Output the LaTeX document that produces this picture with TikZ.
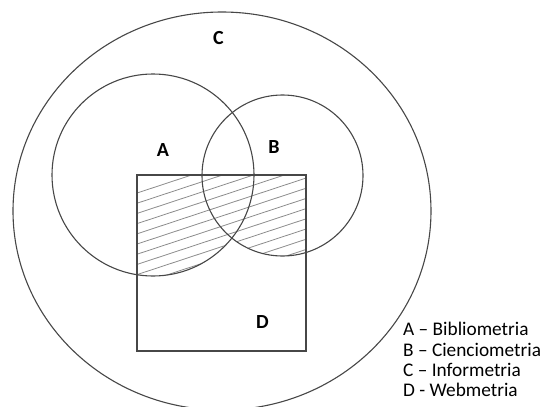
\documentclass[tikz,border=0pt]{standalone}
\usepackage{fontspec}
\setmainfont{Carlito}
\begin{document}
\begin{tikzpicture}[x=1pt,y=-1pt,
  outline/.style={draw=black!72,line width=1.1pt},
  hatchline/.style={draw=black!45,line width=0.8pt},
  setlabel/.style={font=\fontsize{20}{20}\selectfont\bfseries,inner sep=0pt},
  legendtext/.style={font=\fontsize{19.3}{20}\selectfont,inner sep=0pt,anchor=base west}]
\useasboundingbox (0,0) rectangle (542,407);
% hatching of D intersected with (A union B)
\begin{scope}
  \clip (137,175) rectangle (306,351);
  \clip (153,175) circle [radius=101] (282.5,175.5) circle [radius=80.5];
  \foreach \k in {0,...,11} {
    \draw[hatchline] (130,{192.7+10.2*\k+0.33*8}) -- (320,{192.7+10.2*\k-0.33*182});
  }
\end{scope}
% sets
\draw[outline] (222,211) ellipse [x radius=209, y radius=199];
\draw[outline] (153,175) circle [radius=101];
\draw[outline] (282.5,175.5) circle [radius=80.5];
\draw[outline] (137,175) rectangle (306,351);
% labels
\node[setlabel] (lc) at (218.5,38) {C};
\node[setlabel] (la) at (163,150) {A};
\node[setlabel] (lb) at (274,147) {B};
\node[setlabel] (ld) at (262.5,322) {D};
% legend
\node[legendtext] (g1) at (403,335.7) {A – Bibliometria};
\node[legendtext] (g2) at (403,356) {B – Cienciometria};
\node[legendtext] (g3) at (403,376) {C – Informetria};
\node[legendtext] (g4) at (403,396) {D - Webmetria};
\end{tikzpicture}
\end{document}
